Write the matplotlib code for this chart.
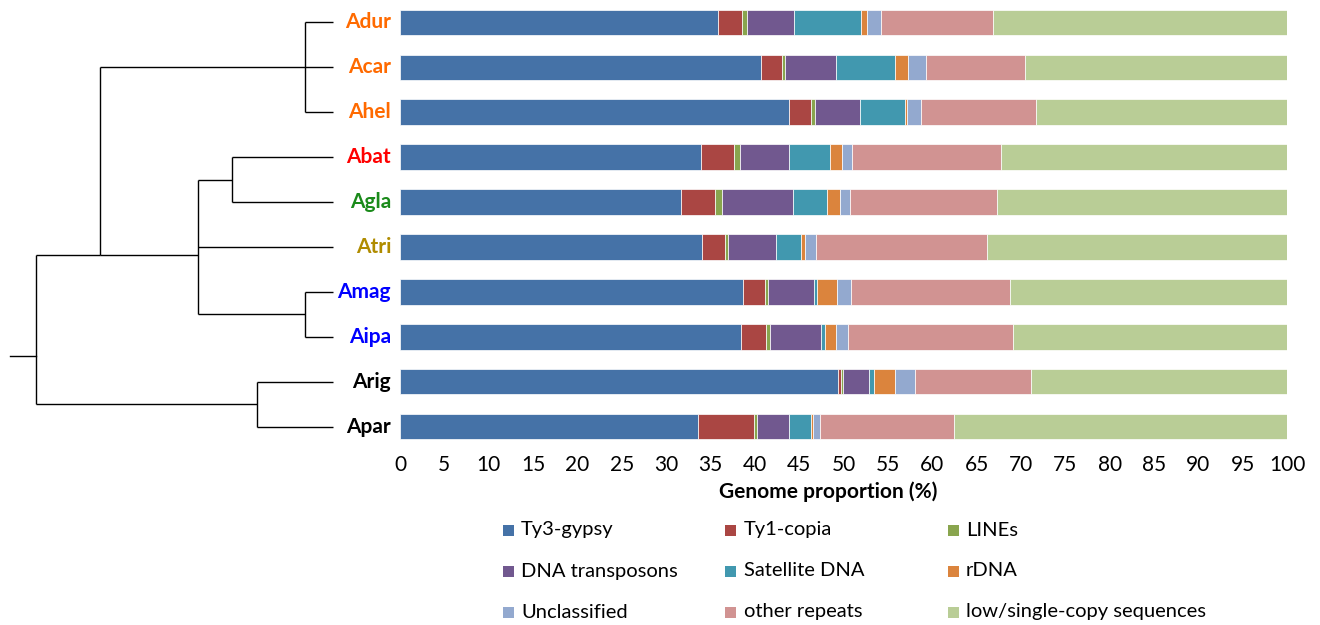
import matplotlib.pyplot as plt
from matplotlib.patches import Rectangle
import numpy as np

plt.rcParams['font.family'] = ['Lato', 'DejaVu Sans']

species = ['Adur', 'Acar', 'Ahel', 'Abat', 'Agla', 'Atri', 'Amag', 'Aipa', 'Arig', 'Apar']
species_colors = ['#FF6A00', '#FF6A00', '#FF6A00', '#FF0000', '#1A8A1A',
                  '#B08C00', '#0000FF', '#0000FF', '#000000', '#000000']

categories = ['Ty3-gypsy', 'Ty1-copia', 'LINEs', 'DNA transposons', 'Satellite DNA',
              'rDNA', 'Unclassified', 'other repeats', 'low/single-copy sequences']
colors = ['#4572A7', '#AA4643', '#89A54E', '#71588F', '#4198AF',
          '#DB843D', '#93A9CF', '#D19392', '#B9CD96']

# genome proportion (%) per category, one value per species (same order as species)
ty3_gypsy = [35.9, 40.7, 43.9, 33.9, 31.7, 34.0, 38.7, 38.4, 49.4, 33.6]
ty1_copia = [2.7, 2.4, 2.4, 3.8, 3.8, 2.6, 2.4, 2.9, 0.3, 6.3]
lines = [0.5, 0.3, 0.5, 0.6, 0.8, 0.4, 0.4, 0.4, 0.2, 0.4]
dna_transposons = [5.3, 5.7, 5.1, 5.5, 8.0, 5.4, 5.2, 5.8, 3.0, 3.6]
satellite_dna = [7.6, 6.7, 5.0, 4.7, 3.8, 2.8, 0.3, 0.4, 0.5, 2.4]
rdna = [0.6, 1.5, 0.3, 1.3, 1.5, 0.5, 2.3, 1.2, 2.4, 0.3]
unclassified = [1.6, 2.0, 1.5, 1.2, 1.1, 1.2, 1.5, 1.4, 2.3, 0.8]
other_repeats = [12.7, 11.2, 13.0, 16.8, 16.6, 19.3, 18.0, 18.6, 13.0, 15.1]
low_single_copy = [33.1, 29.5, 28.3, 32.2, 32.7, 33.8, 31.2, 30.9, 28.9, 37.5]

# dendrogram: internal nodes have a depth (leaves at 1.0) and an optional
# y anchor (in row units) where the parent branch joins
tree = {'depth': 0.080, 'y': 7.42, 'children': [
    {'depth': 0.279, 'y': 5.18, 'children': [
        {'depth': 0.914, 'children': ['Adur', 'Acar', 'Ahel']},
        {'depth': 0.583, 'y': 5.18, 'children': [
            {'depth': 0.688, 'children': ['Abat', 'Agla']},
            'Atri',
            {'depth': 0.914, 'children': ['Amag', 'Aipa']},
        ]},
    ]},
    {'depth': 0.765, 'children': ['Arig', 'Apar']},
]}

W, H = 1320, 625
fig = plt.figure(figsize=(W / 100, H / 100), dpi=100)

ax_bottom = 449 / H
ax = fig.add_axes([400 / W, 1 - ax_bottom, 887 / W, ax_bottom])

values = np.array([ty3_gypsy, ty1_copia, lines, dna_transposons, satellite_dna,
                   rdna, unclassified, other_repeats, low_single_copy])
ypos = np.arange(len(species))
left = np.zeros(len(species))
for vals, col, cat in zip(values, colors, categories):
    ax.barh(ypos, vals, left=left, height=0.57, color=col, label=cat,
            edgecolor='white', linewidth=0.5)
    left += vals

ax.set_xlim(0, 100)
ax.set_ylim(len(species) - 0.5, -0.5)
ax.set_xticks(np.arange(0, 101, 5))
ax.tick_params(axis='x', length=0, labelsize=15, pad=4, labelcolor='#000000')
ax.set_yticks([])
for s in ax.spines.values():
    s.set_visible(False)

fig.text(828 / W, 1 - 492 / H, 'Genome proportion (%)', ha='center', va='center',
         fontsize=15, fontweight='bold')

# dendrogram
tax = fig.add_axes([0, 1 - ax_bottom, 400 / W, ax_bottom])
x_lo, x_hi = -10 / 323, 390 / 323
tax.set_xlim(x_lo, x_hi)
tax.set_ylim(len(species) - 0.5, -0.5)
tax.axis('off')


def draw(node):
    if isinstance(node, str):
        return 1.0, species.index(node)
    pts = [draw(c) for c in node['children']]
    d = node['depth']
    ys = [p[1] for p in pts]
    for cx, cy in pts:
        tax.plot([d, cx], [cy, cy], color='black', lw=1, solid_capstyle='butt')
    tax.plot([d, d], [min(ys), max(ys)], color='black', lw=1, solid_capstyle='butt')
    return d, node.get('y', (min(ys) + max(ys)) / 2)


rx, ry = draw(tree)
tax.plot([0, rx], [ry, ry], color='black', lw=1)

label_x = x_lo + (x_hi - x_lo) * 391 / 400
for i, (name, col) in enumerate(zip(species, species_colors)):
    tax.text(label_x, i, name, ha='right', va='center', color=col,
             fontsize=15, fontweight='bold')

# legend in a 3 x 3 grid
for k, (cat, col) in enumerate(zip(categories, colors)):
    r, c = divmod(k, 3)
    x0 = 503 + 222.5 * c
    yc = 530 + 41 * r
    fig.add_artist(Rectangle((x0 / W, 1 - (yc + 5.5) / H), 11 / W, 11 / H,
                             facecolor=col, edgecolor='none', transform=fig.transFigure))
    fig.text((x0 + 18) / W, 1 - yc / H, cat, ha='left', va='center', fontsize=14.5)

fig.savefig('out.png', dpi=100)
